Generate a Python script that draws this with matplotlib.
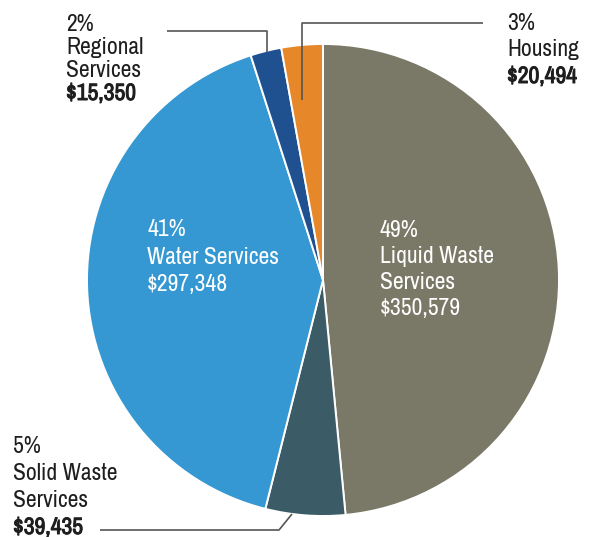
import matplotlib
matplotlib.use("Agg")
import matplotlib.pyplot as plt
import matplotlib.patheffects as pe
from matplotlib import font_manager

# Operating budget by service (thousands of dollars)
services = ["Liquid Waste Services", "Solid Waste Services", "Water Services",
            "Regional Services", "Housing"]
amounts = [350579, 39435, 297348, 15350, 20494]
percents = [49, 5, 41, 2, 3]
colors = ["#7a7866", "#3b5b66", "#3598d2", "#1f5191", "#e6882a"]

# prefer a narrow face if one is installed
names = {f.name for f in font_manager.fontManager.ttflist}
FONT = "DejaVu Sans"
for cand in ["Liberation Sans Narrow", "Archivo Narrow", "Roboto Condensed",
             "Open Sans Condensed", "PT Sans Narrow"]:
    if cand in names:
        FONT = cand
        break
plt.rcParams["font.family"] = [FONT, "DejaVu Sans"]

W, H = 600, 537
fig = plt.figure(figsize=(W / 100, H / 100), dpi=100)
ax = fig.add_axes([0, 0, 1, 1])


def py(y):
    # pixel row (from top) to data y
    return H - y


cx, cy, r = 323, 280, 236
wedges, _ = ax.pie(amounts, colors=colors, startangle=90, counterclock=False,
                   center=(cx, py(cy)), radius=r, frame=True,
                   wedgeprops=dict(edgecolor="white", linewidth=1.4))
ax.set_xlim(0, W)
ax.set_ylim(0, H)
ax.set_aspect("equal")
ax.axis("off")


def label(x, y, step, lines, color, money_stroke=0.7):
    for i, txt in enumerate(lines):
        t = ax.text(x, py(y + i * step), txt, color=color, fontsize=17,
                    ha="left", va="baseline")
        if i == len(lines) - 1 and money_stroke:
            # heavier weight for the dollar amount
            t.set_path_effects([pe.withStroke(linewidth=money_stroke, foreground=color)])


def fmt(v):
    return f"${v:,}"


# outside labels
label(66, 31, 23, [f"{percents[3]}%", "Regional", "Services", fmt(amounts[3])], "#1e1e1e")
label(507, 30, 26.5, [f"{percents[4]}%", "Housing", fmt(amounts[4])], "#1e1e1e")
label(13, 453, 27, [f"{percents[1]}%", "Solid Waste", "Services", fmt(amounts[1])], "#1e1e1e")

# labels inside the two big slices
label(147, 236, 27.5, [f"{percents[2]}%", "Water Services", fmt(amounts[2])], "white", 0)
label(380, 237, 26, [f"{percents[0]}%", "Liquid Waste", "Services", fmt(amounts[0])], "white", 0)

# leader lines
lc = dict(color="#555555", linewidth=1.2, solid_capstyle="butt")
ax.plot([167, 267, 267], [py(31), py(31), py(52)], **lc)
ax.plot([483, 302, 302], [py(23), py(23), py(100)], **lc)
ax.plot([100, 279, 292], [py(530), py(530), py(514)], **lc)

fig.savefig("out.png", dpi=100, facecolor="white")
